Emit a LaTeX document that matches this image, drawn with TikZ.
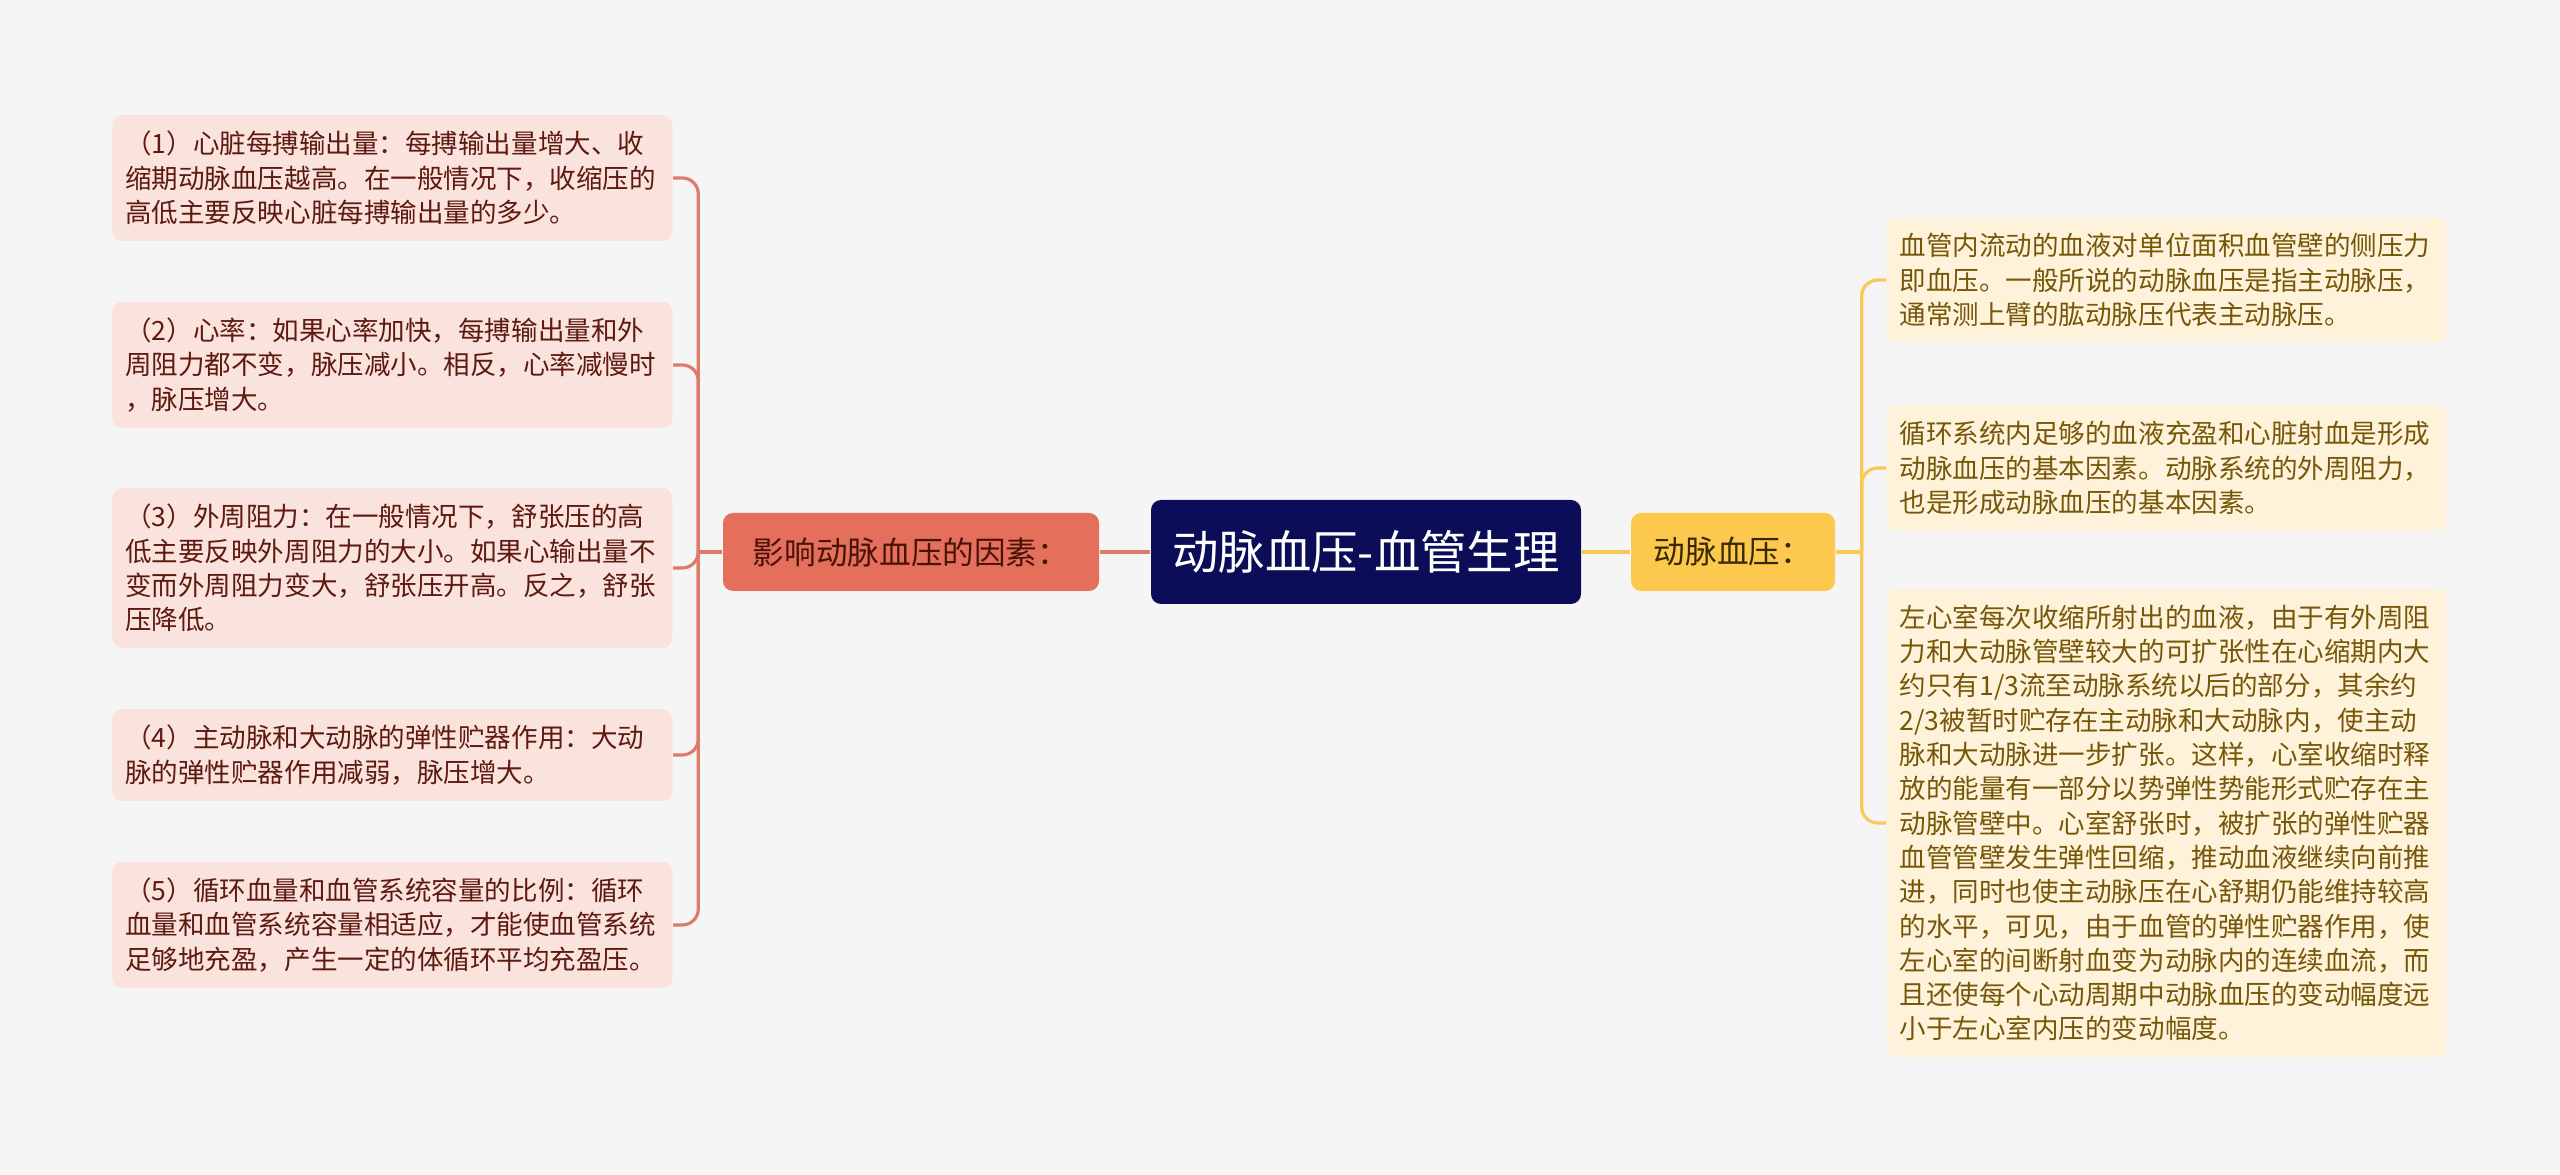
\documentclass[tikz,border=0pt]{standalone}
\usepackage{fontspec}
\setmainfont{Noto Sans CJK SC}
\definecolor{bgc}{HTML}{F5F5F5}
\definecolor{rootc}{HTML}{0B0D58}
\definecolor{inflc}{HTML}{E4705B}
\definecolor{inflt}{HTML}{4A1208}
\definecolor{artc}{HTML}{FCC84E}
\definecolor{artt}{HTML}{3A2800}
\definecolor{lleafc}{HTML}{FAE2DD}
\definecolor{ltextc}{HTML}{5E1A10}
\definecolor{rleafc}{HTML}{FEF3DA}
\definecolor{rtextc}{HTML}{765708}
\definecolor{llinec}{HTML}{E07A68}
\definecolor{rlinec}{HTML}{F7C956}
\begin{document}
\begin{tikzpicture}[
  x=0.1mm, y=-0.1mm,
  every node/.style={rounded corners=1mm, inner sep=0pt},
  root/.style={fill=rootc, text=white, minimum width=43mm, minimum height=10.4mm, font=\fontsize{13.2}{16}\selectfont},
  branch/.style={minimum height=7.8mm, font=\fontsize{9}{11}\selectfont},
  leaf/.style={text width=53.4mm, inner xsep=1.3mm, inner ysep=1.6mm, align=left, font=\fontsize{7.55}{9.76}\selectfont},
  lleaf/.style={leaf, fill=lleafc, text=ltextc, anchor=east},
  rleaf/.style={leaf, fill=rleafc, text=rtextc, anchor=west},
  lline/.style={draw=llinec, line width=0.9pt, rounded corners=1.6mm},
  rline/.style={draw=rlinec, line width=0.9pt, rounded corners=1.6mm}
]
\path[use as bounding box, fill=bgc] (0,0) rectangle (2560,1175);

\node[root] (root) at (1366,552) {动脉血压-血管生理};
\node[branch, fill=inflc, text=inflt, minimum width=37.6mm] (infl) at (911,552) {影响动脉血压的因素：};
\node[branch, fill=artc, text=artt, minimum width=20.4mm] (art) at (1733,552) {动脉血压：};

\node[lleaf] (l1) at (673,178) {（1）心脏每搏输出量：每搏输出量增大、收\\缩期动脉血压越高。在一般情况下，收缩压的\\高低主要反映心脏每搏输出量的多少。};
\node[lleaf] (l2) at (673,365) {（2）心率：如果心率加快，每搏输出量和外\\周阻力都不变，脉压减小。相反，心率减慢时\\，脉压增大。};
\node[lleaf] (l3) at (673,568) {（3）外周阻力：在一般情况下，舒张压的高\\低主要反映外周阻力的大小。如果心输出量不\\变而外周阻力变大，舒张压开高。反之，舒张\\压降低。};
\node[lleaf] (l4) at (673,755) {（4）主动脉和大动脉的弹性贮器作用：大动\\脉的弹性贮器作用减弱，脉压增大。};
\node[lleaf] (l5) at (673,925) {（5）循环血量和血管系统容量的比例：循环\\血量和血管系统容量相适应，才能使血管系统\\足够地充盈，产生一定的体循环平均充盈压。};

\node[rleaf] (r1) at (1886,280) {血管内流动的血液对单位面积血管壁的侧压力\\即血压。一般所说的动脉血压是指主动脉压，\\通常测上臂的肱动脉压代表主动脉压。};
\node[rleaf] (r2) at (1886,468) {循环系统内足够的血液充盈和心脏射血是形成\\动脉血压的基本因素。动脉系统的外周阻力，\\也是形成动脉血压的基本因素。};
\node[rleaf] (r3) at (1886,823) {左心室每次收缩所射出的血液，由于有外周阻\\力和大动脉管壁较大的可扩张性在心缩期内大\\约只有1/3流至动脉系统以后的部分，其余约\\2/3被暂时贮存在主动脉和大动脉内，使主动\\脉和大动脉进一步扩张。这样，心室收缩时释\\放的能量有一部分以势弹性势能形式贮存在主\\动脉管壁中。心室舒张时，被扩张的弹性贮器\\血管管壁发生弹性回缩，推动血液继续向前推\\进，同时也使主动脉压在心舒期仍能维持较高\\的水平，可见，由于血管的弹性贮器作用，使\\左心室的间断射血变为动脉内的连续血流，而\\且还使每个心动周期中动脉血压的变动幅度远\\小于左心室内压的变动幅度。};

\draw[lline] (root.west) -- (infl.east);
\draw[rline] (root.east) -- (art.west);
\draw[lline] (infl.west) -- ++(-24,0) coordinate (lj);
\draw[rline] (art.east) -- ++(26,0) coordinate (rj);
\foreach \n in {l1,l2,l3,l4,l5}
  \draw[lline] (lj) |- (\n.east);
\foreach \n in {r1,r2,r3}
  \draw[rline] (rj) |- (\n.west);
\end{tikzpicture}
\end{document}
